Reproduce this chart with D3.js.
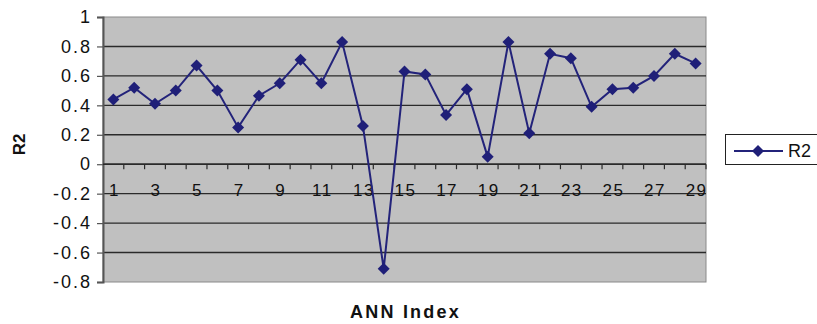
<!DOCTYPE html>
<html>
<head>
<meta charset="utf-8">
<script src="https://cdn.jsdelivr.net/npm/d3@7"></script>
<style>
  html, body { margin: 0; padding: 0; background: #fff; }
  svg { display: block; font-family: Arial, "Liberation Sans", sans-serif; }
</style>
</head>
<body>
<svg id="chart" width="817" height="324"></svg>
<script>
// ANN index 1..29 and the R2 score for each network
const annIndex = d3.range(1, 30);
const r2Values = [
  0.44, 0.52, 0.41, 0.50, 0.67, 0.50, 0.25, 0.465, 0.55, 0.71,
  0.55, 0.83, 0.26, -0.71, 0.63, 0.61, 0.335, 0.51, 0.05, 0.83,
  0.21, 0.75, 0.72, 0.39, 0.51, 0.52, 0.60, 0.75, 0.685
];
const yTicks = [1, 0.8, 0.6, 0.4, 0.2, 0, -0.2, -0.4, -0.6, -0.8];
const xLabelTicks = annIndex.filter(d => d % 2 === 1);
const seriesName = "R2";

const svg = d3.select("#chart");
const plot = { left: 103, top: 17, right: 706, bottom: 282 };

const x = d3.scaleBand().domain(annIndex).range([plot.left, plot.right]).paddingInner(0).paddingOuter(0);
const y = d3.scaleLinear().domain([-0.8, 1]).range([plot.bottom, plot.top]);
const cx = d => x(d) + x.bandwidth() / 2;

// plot background
svg.append("rect")
  .attr("x", plot.left).attr("y", plot.top)
  .attr("width", plot.right - plot.left).attr("height", plot.bottom - plot.top)
  .attr("fill", "#c0c0c0").attr("stroke", "#8a8a8a").attr("stroke-width", 1);

// horizontal gridlines
svg.append("g")
  .selectAll("line")
  .data(yTicks.filter(v => v !== 1 && v !== -0.8))
  .join("line")
  .attr("x1", plot.left).attr("x2", plot.right)
  .attr("y1", d => y(d)).attr("y2", d => y(d))
  .attr("stroke", "#2a2a2a").attr("stroke-width", 1.4);

// y axis (plain hyphen for negatives)
const yAxis = d3.axisLeft(y).tickValues(yTicks).tickSize(6).tickPadding(5)
  .tickFormat(d => String(+d.toFixed(1)));
const gy = svg.append("g").attr("transform", `translate(${plot.left},0)`).call(yAxis);
gy.select(".domain").attr("stroke", "#555").attr("stroke-width", 2);
gy.selectAll(".tick line").attr("stroke", "#555").attr("stroke-width", 1.2);
gy.selectAll(".tick text").attr("font-size", 18).attr("fill", "#111")
  .attr("letter-spacing", 2)
  .attr("font-family", "Arial, 'Liberation Sans', sans-serif");

// x axis crossing at zero, ticks on category boundaries
const y0 = y(0);
const xg = svg.append("g");
xg.append("line")
  .attr("x1", plot.left).attr("x2", plot.right)
  .attr("y1", y0).attr("y2", y0)
  .attr("stroke", "#2a2a2a").attr("stroke-width", 1.4);
xg.selectAll("line.tick")
  .data(annIndex.slice(1).concat([annIndex.length + 1]))
  .join("line").attr("class", "tick")
  .attr("x1", d => x(d - 1) + x.bandwidth()).attr("x2", d => x(d - 1) + x.bandwidth())
  .attr("y1", y0).attr("y2", y0 + 5)
  .attr("stroke", "#2a2a2a").attr("stroke-width", 1.2);
xg.selectAll("text")
  .data(xLabelTicks)
  .join("text")
  .attr("x", d => cx(d) + 1).attr("y", y0 + 32)
  .attr("text-anchor", "middle")
  .attr("font-size", 17).attr("fill", "#111")
  .attr("letter-spacing", 1.5)
  .text(d => d);

// series line
const line = d3.line().x((d, i) => cx(annIndex[i])).y(d => y(d));
svg.append("path")
  .datum(r2Values)
  .attr("d", line)
  .attr("fill", "none")
  .attr("stroke", "#23237a")
  .attr("stroke-width", 2);

// diamond markers
const diamondPath = (s) => `M0,${-s}L${s},0L0,${s}L${-s},0Z`;
svg.append("g")
  .selectAll("path")
  .data(r2Values)
  .join("path")
  .attr("transform", (d, i) => `translate(${cx(annIndex[i])},${y(d)})`)
  .attr("d", diamondPath(6))
  .attr("fill", "#1f1f78");

// axis titles
svg.append("text")
  .attr("transform", `translate(25,${(plot.top + plot.bottom) / 2 - 5}) rotate(-90)`)
  .attr("text-anchor", "middle")
  .attr("font-size", 17).attr("font-weight", "bold").attr("fill", "#111")
  .text("R2");
svg.append("text")
  .attr("x", (plot.left + plot.right) / 2 + 1).attr("y", 318)
  .attr("text-anchor", "middle")
  .attr("font-size", 18).attr("font-weight", "bold").attr("fill", "#111")
  .attr("letter-spacing", 2.2)
  .text("ANN Index");

// legend
const lg = svg.append("g");
lg.append("rect")
  .attr("x", 725.5).attr("y", 134.5).attr("width", 100).attr("height", 30)
  .attr("fill", "#fff").attr("stroke", "#222").attr("stroke-width", 1);
lg.append("line")
  .attr("x1", 734).attr("x2", 783).attr("y1", 151).attr("y2", 151)
  .attr("stroke", "#23237a").attr("stroke-width", 2);
lg.append("path")
  .attr("transform", "translate(758,151)")
  .attr("d", diamondPath(6))
  .attr("fill", "#1f1f78");
lg.append("text")
  .attr("x", 788).attr("y", 157)
  .attr("font-size", 18).attr("fill", "#111")
  .text(seriesName);
</script>
</body>
</html>
